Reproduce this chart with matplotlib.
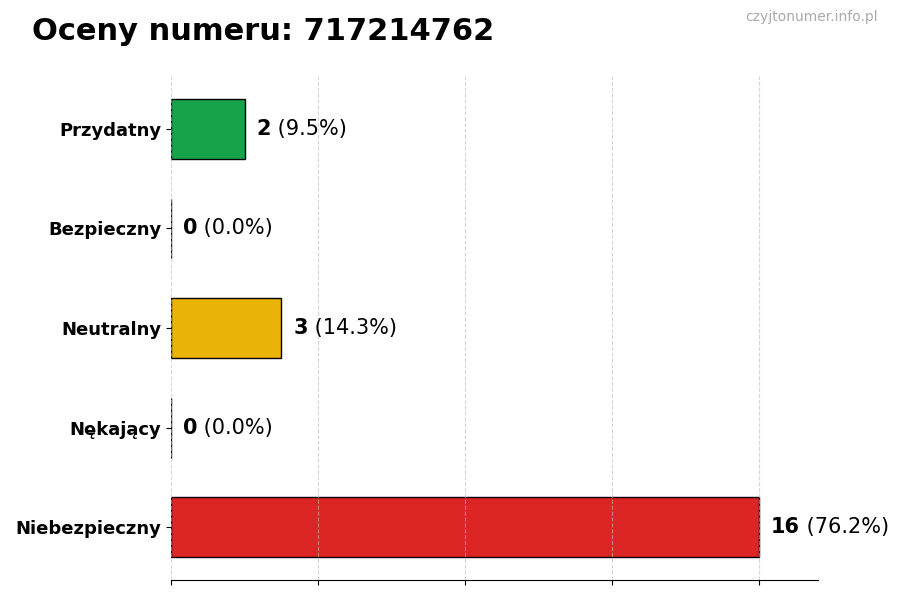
import matplotlib
matplotlib.use("Agg")
import matplotlib.pyplot as plt

categories = ["Przydatny", "Bezpieczny", "Neutralny", "Nękający", "Niebezpieczny"]
counts = [2, 0, 3, 0, 16]
colors = ["#16a34a", "#16a34a", "#eab308", "#dc2626", "#dc2626"]
title = "Oceny numeru: 717214762"
watermark = "czyjtonumer.info.pl"

total = sum(counts)
fig = plt.figure(figsize=(9, 6), dpi=100)
ax = fig.add_axes([0.19, 0.0333, 0.719, 0.84])

ypos = list(range(len(categories)))[::-1]
ax.barh(ypos, counts, height=0.6, color=colors, edgecolor="black", linewidth=1, zorder=1)
ax.set_yticks(ypos)
ax.set_yticklabels(categories, fontsize=13, fontweight="bold")
xmax = max(counts)
ax.set_xlim(0, xmax * 1.1)
ax.set_xticks([0, 4, 8, 12, 16])
ax.set_xticklabels([])
ax.set_axisbelow(False)
ax.grid(axis="x", linestyle="--", color="#bbbbbb", alpha=0.6, linewidth=0.8)
for s in ["top", "right", "left"]:
    ax.spines[s].set_visible(False)

off = xmax * 0.02
for y, c in zip(ypos, counts):
    t = ax.text(c + off, y, f"{c}", fontsize=15, fontweight="bold", va="center", ha="left")
    ax.annotate(f" ({c / total * 100:.1f}%)", xy=(1, 0), xycoords=t, va="bottom", ha="left", fontsize=15)

fig.text(0.035, 0.948, title, fontsize=22, fontweight="bold", va="center", ha="left")
fig.text(0.975, 0.972, watermark, fontsize=10, color="#aaaaaa", va="center", ha="right")

fig.savefig("out.png", dpi=100)
